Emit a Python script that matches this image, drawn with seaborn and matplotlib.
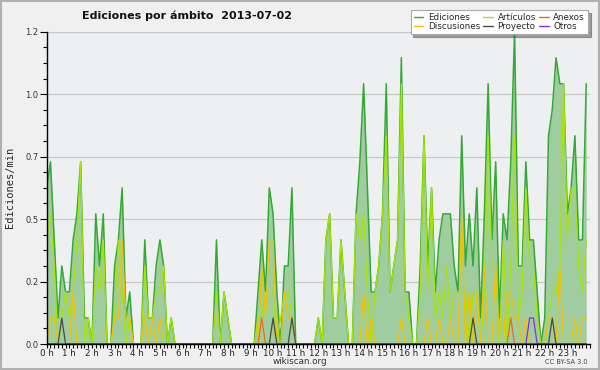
import matplotlib
matplotlib.use("Agg")
import matplotlib.pyplot as plt
from matplotlib.ticker import FixedLocator, MultipleLocator, FuncFormatter
from matplotlib.patches import Rectangle
import numpy as np
import pandas as pd
import seaborn as sns

# ---- data: edit counts per 10-minute bin (144 bins over the day) ----
BIN_MINUTES = 10
ediciones = [6, 7, 4, 1, 3, 2, 2, 4, 5, 7, 1, 1, 0, 5, 3, 5, 0, 0, 3, 4, 6, 1, 2, 0,
             0, 0, 4, 1, 1, 3, 4, 3, 0, 1, 0, 0, 0, 0, 0, 0, 0, 0, 0, 0, 0, 4, 0, 2,
             1, 0, 0, 0, 0, 0, 0, 0, 2, 4, 2, 6, 5, 2, 0, 3, 3, 6, 0, 0, 0, 0, 0, 0,
             1, 0, 4, 5, 1, 1, 4, 2, 0, 0, 5, 7, 10, 6, 2, 2, 3, 5, 10, 2, 3, 4, 11, 2,
             2, 0, 0, 3, 8, 3, 6, 2, 4, 5, 5, 5, 3, 2, 8, 3, 5, 3, 6, 1, 5, 10, 4, 7,
             1, 5, 4, 7, 12, 3, 3, 7, 4, 4, 2, 0, 1, 8, 9, 11, 10, 10, 5, 6, 8, 4, 4, 10]
articulos = [4, 5, 3, 0, 1, 2, 1, 2, 4, 7, 0, 1, 0, 3, 2, 4, 0, 0, 1, 4, 2, 0, 1, 0,
             0, 0, 3, 1, 1, 2, 2, 3, 0, 1, 0, 0, 0, 0, 0, 0, 0, 0, 0, 0, 0, 2, 0, 2,
             1, 0, 0, 0, 0, 0, 0, 0, 1, 1, 2, 2, 2, 0, 1, 2, 2, 1, 0, 0, 0, 0, 0, 0,
             1, 0, 4, 5, 1, 1, 4, 2, 0, 0, 5, 4, 5, 2, 0, 2, 3, 5, 8, 2, 3, 4, 10, 2,
             1, 0, 0, 2, 8, 2, 6, 1, 2, 1, 3, 1, 2, 2, 2, 2, 0, 2, 2, 0, 2, 8, 3, 3,
             0, 4, 0, 3, 8, 1, 2, 6, 3, 3, 1, 0, 0, 1, 2, 2, 3, 10, 4, 6, 6, 3, 2, 4]
discusiones = [0, 1, 1, 0, 0, 0, 0, 2, 0, 0, 0, 0, 0, 0, 0, 0, 0, 0, 1, 1, 4, 1, 1, 0,
               0, 0, 1, 0, 1, 0, 1, 0, 0, 0, 0, 0, 0, 0, 0, 0, 0, 0, 0, 0, 0, 0, 0, 0,
               0, 0, 0, 0, 0, 0, 0, 0, 0, 3, 1, 4, 4, 0, 0, 2, 1, 1, 0, 0, 0, 0, 0, 0,
               0, 0, 0, 0, 0, 0, 0, 0, 0, 0, 0, 0, 2, 0, 1, 0, 0, 0, 0, 0, 0, 0, 1, 0,
               0, 0, 0, 0, 0, 1, 0, 0, 1, 0, 0, 1, 0, 0, 5, 0, 2, 0, 2, 0, 3, 0, 0, 3,
               0, 0, 2, 2, 1, 1, 0, 1, 0, 0, 0, 0, 0, 1, 1, 0, 3, 0, 0, 0, 1, 0, 1, 1]
anexos = [0] * 57 + [1] + [0] * 65 + [1] + [0] * 20
proyecto = [0, 0, 0, 0, 1] + [0] * 55 + [1, 0, 0, 0, 0, 1] + [0] * 47 + [1] + [0] * 20 + [1] + [0] * 9
otros = [0] * 128 + [1, 1] + [0] * 14

hour_labels = [f"{h} h" for h in range(24)]
series_names = ["Ediciones", "Discusiones", "Artículos", "Proyecto", "Anexos", "Otros"]
colors = {"Ediciones": "#35a935", "Artículos": "#a6e600", "Discusiones": "#f2c200",
          "Anexos": "#f06a1e", "Proyecto": "#4a4a4a", "Otros": "#8a2be2"}

hours = np.arange(len(ediciones)) / 6.0
df = pd.DataFrame({"hora": hours,
                   "Ediciones": np.array(ediciones) / BIN_MINUTES,
                   "Artículos": np.array(articulos) / BIN_MINUTES,
                   "Discusiones": np.array(discusiones) / BIN_MINUTES,
                   "Anexos": np.array(anexos) / BIN_MINUTES,
                   "Proyecto": np.array(proyecto) / BIN_MINUTES,
                   "Otros": np.array(otros) / BIN_MINUTES})

sns.set_theme(style="white")
plt.rcParams["font.family"] = ["DejaVu Sans"]

fig = plt.figure(figsize=(6.0, 3.7), dpi=100, facecolor="#f0f0f0")
ax = fig.add_axes([46.7 / 600, 26 / 370, (590 - 46.7) / 600, (344 - 31.7) / 370])
ax.set_facecolor("#eeeff1")

ax.fill_between(df["hora"], 0, df["Ediciones"], color="#9fcd9f", linewidth=0, zorder=2)
order = ["Ediciones", "Artículos", "Discusiones", "Anexos", "Otros", "Proyecto"]
for name in order:
    sns.lineplot(data=df, x="hora", y=name, ax=ax, color=colors[name],
                 linewidth=1.1 if name == "Ediciones" else 0.9, zorder=3,
                 label=None, legend=False)

ax.set_xlim(0, 24)
ax.set_ylim(0, 1.2)
yt = [0.0, 0.24, 0.48, 0.72, 0.96, 1.2]
ax.yaxis.set_major_locator(FixedLocator(yt))
ax.yaxis.set_minor_locator(MultipleLocator(0.06))
ax.yaxis.set_major_formatter(FuncFormatter(lambda v, p: f"{v:.1f}"))
ax.xaxis.set_major_locator(FixedLocator(range(24)))
ax.set_xticklabels(hour_labels)
ax.xaxis.set_minor_locator(MultipleLocator(1 / 6))
ax.grid(axis="y", color="#c8c8c8", linewidth=0.9, zorder=1)
ax.grid(axis="x", visible=False)
ax.set_axisbelow(True)

for s in ["top", "right"]:
    ax.spines[s].set_visible(False)
for s in ["left", "bottom"]:
    ax.spines[s].set_color("black")
    ax.spines[s].set_linewidth(1.0)
    ax.spines[s].set_zorder(5)

ax.tick_params(axis="both", which="both", direction="out", color="black",
               left=True, bottom=True, width=0.8)
ax.tick_params(axis="y", which="major", length=5, labelsize=6, pad=1, labelcolor="#333333")
ax.tick_params(axis="y", which="minor", length=3)
ax.tick_params(axis="x", which="major", length=3, labelsize=6.3, pad=0.5, labelcolor="#222222")
ax.tick_params(axis="x", which="minor", length=3)

ax.set_xlabel("")
ax.set_ylabel("Ediciones/min", fontsize=7.5, family="DejaVu Sans Mono", labelpad=7)

fig.text(187 / 600, 1 - 16 / 370, "Ediciones por ámbito  2013-07-02",
         ha="center", va="center", fontsize=8, fontweight="bold", color="#111111")
fig.text(0.5, 1 - 362 / 370, "wikiscan.org", ha="center", va="center",
         fontsize=6.3, color="#333333")
fig.text(588 / 600, 1 - 362 / 370, "CC BY-SA 3.0", ha="right", va="center",
         fontsize=4.8, color="#444444")

handles = [plt.Line2D([], [], color=colors[n], linewidth=1.0) for n in series_names]
leg = fig.legend(handles, series_names, loc="upper right", ncol=3,
                 bbox_to_anchor=(588 / 600, 1 - 10 / 370), fontsize=6.3,
                 frameon=True, fancybox=False, shadow=True, handlelength=1.1,
                 handletextpad=0.5, columnspacing=0.4, labelspacing=0.0,
                 borderpad=0.35, borderaxespad=0)
leg.get_frame().set_edgecolor("#aaaaaa")
leg.get_frame().set_facecolor("white")
leg.get_frame().set_linewidth(0.8)

fig.patches.append(Rectangle((0.0015, 0.0025), 0.997, 0.995, transform=fig.transFigure,
                             fill=False, edgecolor="#b0b0b0", linewidth=1.5))

fig.savefig("out.png", dpi=100, facecolor=fig.get_facecolor())
